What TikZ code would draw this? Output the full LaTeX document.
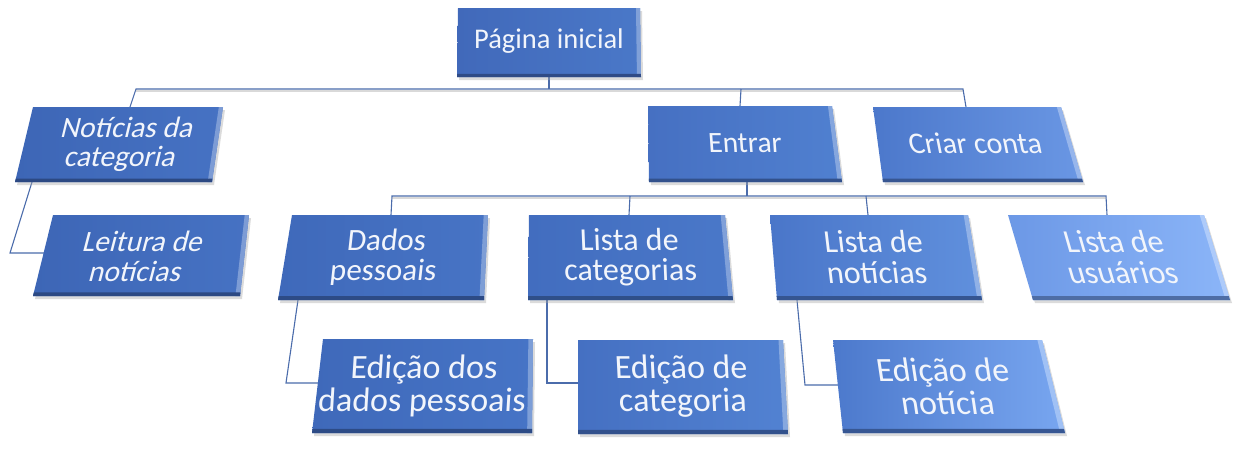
\documentclass[tikz,border=0pt]{standalone}
\usepackage{fontspec}
\setmainfont{Carlito}
\usetikzlibrary{calc}
\definecolor{conncol}{HTML}{4B6CAB}
\definecolor{txtcol}{HTML}{F2F5FB}
\definecolor{piL}{HTML}{4169BA}\definecolor{piR}{HTML}{4A78C8}
\definecolor{ncL}{HTML}{3D66B6}\definecolor{ncR}{HTML}{4672C3}
\definecolor{enL}{HTML}{4670C2}\definecolor{enR}{HTML}{5080D0}
\definecolor{ccL}{HTML}{4C78CB}\definecolor{ccR}{HTML}{6A97E4}
\definecolor{leL}{HTML}{3D66B6}\definecolor{leR}{HTML}{4672C3}
\definecolor{dpL}{HTML}{3F69BA}\definecolor{dpR}{HTML}{4774C5}
\definecolor{lcL}{HTML}{426DBF}\definecolor{lcR}{HTML}{4A78C9}
\definecolor{lnL}{HTML}{4A76C9}\definecolor{lnR}{HTML}{6090DD}
\definecolor{luL}{HTML}{6C98E6}\definecolor{luR}{HTML}{8BB5F8}
\definecolor{edL}{HTML}{3F69BA}\definecolor{edR}{HTML}{4674C6}
\definecolor{ecL}{HTML}{4570C2}\definecolor{ecR}{HTML}{5282D2}
\definecolor{etL}{HTML}{4C79CC}\definecolor{etR}{HTML}{78A6F0}
\tikzset{
  conn/.style={draw=conncol, line width=1.1pt},
  connsh/.style={draw=black!15, line width=2.4pt},
  txt/.style={text=txtcol, align=center, inner sep=0pt}
}
\newcommand\drawbox[7]{%
  \coordinate (#1-tl) at #2; \coordinate (#1-tr) at #3;
  \coordinate (#1-br) at #4; \coordinate (#1-bl) at #5;
  \fill[black!35, opacity=0.4] ($(#1-tl)+(2,3)$) -- ($(#1-tr)+(2,3)$) -- ($(#1-br)+(2,3)$) -- ($(#1-bl)+(2,3)$) -- cycle;
  \shade[left color=#6, right color=#7] (#1-tl) -- (#1-tr) -- (#1-br) -- (#1-bl) -- cycle;
  \fill[#7!70!white] (#1-tr) -- (#1-br) -- ($(#1-br)!0.022!(#1-bl)$) -- ($(#1-tr)!0.022!(#1-tl)$) -- cycle;
  \fill[#6!72!black] (#1-bl) -- (#1-br) -- ($(#1-br)!0.045!(#1-tr)$) -- ($(#1-bl)!0.045!(#1-tl)$) -- cycle;
}
\newcommand\boxtext[6]{%
  \begin{scope}[shift={#2}, xslant=#3]
    \node[txt, transform shape, font=\fontsize{#4}{#5}\selectfont] (#1) at (0,0) {#6};
  \end{scope}}
\begin{document}
\begin{tikzpicture}[x=1pt, y=-1pt]
\fill[white] (0,0) rectangle (1240,448);
\useasboundingbox (0,0) rectangle (1240,448);

% connector points
\coordinate (pi-b) at (549,77);   \coordinate (h1-c) at (549,89);
\coordinate (h1-l) at (136,89);   \coordinate (nc-t) at (130,107);
\coordinate (h1-e) at (741,89);   \coordinate (en-t) at (740,106);
\coordinate (h1-r) at (963,89);   \coordinate (cc-t) at (966,107);
\coordinate (en-b) at (747,182);  \coordinate (h2-c) at (747,196);
\coordinate (h2-1) at (392,196);  \coordinate (dp-t) at (391,215);
\coordinate (h2-2) at (630,196);  \coordinate (lc-t) at (629,215);
\coordinate (h2-3) at (866,196);  \coordinate (ln-t) at (868,215);
\coordinate (h2-4) at (1106,196); \coordinate (lu-t) at (1107,215);
\coordinate (nc-b) at (32,182);   \coordinate (nc-k) at (10,253);   \coordinate (le-l) at (45,253);
\coordinate (dp-b) at (298,300);  \coordinate (dp-k) at (286,383);  \coordinate (ed-l) at (318,383);
\coordinate (lc-b) at (547,300);  \coordinate (lc-k) at (547,383);  \coordinate (ec-l) at (578,383);
\coordinate (ln-b) at (797,300);  \coordinate (ln-k) at (805,385);  \coordinate (et-l) at (839,385);

% connector shadows
\draw[connsh] ($(h1-l)+(0,2)$) -- ($(h1-r)+(0,2)$);
\draw[connsh] ($(h2-1)+(0,2)$) -- ($(h2-4)+(0,2)$);

% connectors
\draw[conn] (pi-b) -- (h1-c);
\draw[conn] (nc-t) -- (h1-l) -- (h1-r) -- (cc-t);
\draw[conn] (h1-e) -- (en-t);
\draw[conn] (en-b) -- (h2-c);
\draw[conn] (dp-t) -- (h2-1) -- (h2-4) -- (lu-t);
\draw[conn] (h2-2) -- (lc-t);
\draw[conn] (h2-3) -- (ln-t);
\draw[conn] (nc-b) -- (nc-k) -- (le-l);
\draw[conn] (dp-b) -- (dp-k) -- (ed-l);
\draw[conn] (lc-b) -- (lc-k) -- (ec-l);
\draw[conn] (ln-b) -- (ln-k) -- (et-l);

% boxes
\drawbox{pi}{(458,8)}{(640,8)}{(641,77)}{(457,77)}{piL}{piR}
\drawbox{nc}{(33,107)}{(223,107)}{(212,182)}{(15,182)}{ncL}{ncR}
\drawbox{en}{(648,106)}{(832,106)}{(842,182)}{(649,182)}{enL}{enR}
\drawbox{cc}{(873,107)}{(1061,107)}{(1083,182)}{(883,182)}{ccL}{ccR}
\drawbox{le}{(53,215)}{(249,215)}{(240,296)}{(33,296)}{leL}{leR}
\drawbox{dp}{(292,215)}{(488,215)}{(484,300)}{(278,300)}{dpL}{dpR}
\drawbox{lc}{(529,215)}{(725,215)}{(733,300)}{(528,300)}{lcL}{lcR}
\drawbox{ln}{(770,215)}{(968,215)}{(982,300)}{(777,300)}{lnL}{lnR}
\drawbox{lu}{(1008,215)}{(1204,215)}{(1230,300)}{(1033,300)}{luL}{luR}
\drawbox{ed}{(323,339)}{(533,339)}{(532,433)}{(312,433)}{edL}{edR}
\drawbox{ec}{(578,340)}{(783,340)}{(788,434)}{(578,434)}{ecL}{ecR}
\drawbox{et}{(833,340)}{(1042,340)}{(1065,433)}{(843,433)}{etL}{etR}

% texts
\boxtext{piT}{(549,41)}{0}{28.5}{28}{Página inicial}
\boxtext{ncT}{(124,144)}{0.24}{29.5}{29}{Notícias da\\categoria}
\boxtext{enT}{(745,143)}{-0.07}{29.5}{29}{Entrar}
\boxtext{ccT}{(975,143)}{-0.2}{30}{29}{Criar conta}
\boxtext{leT}{(140,256)}{0.26}{29.5}{30}{Leitura de\\notícias}
\boxtext{dpT}{(385,257)}{0.11}{31}{30}{Dados\\pessoais}
\boxtext{lcT}{(630,257)}{-0.04}{32}{30.5}{Lista de\\categorias}
\boxtext{lnT}{(875,257)}{-0.12}{32}{30.5}{Lista de\\notícias}
\boxtext{luT}{(1118,257)}{-0.29}{32}{30.5}{Lista de\\usuários}
\boxtext{edT}{(423,386)}{0.06}{34}{33}{Edição dos\\dados pessoais}
\boxtext{ecT}{(682,386)}{-0.05}{34}{33}{Edição de\\categoria}
\boxtext{etT}{(945,386)}{-0.15}{34}{33}{Edição de\\notícia}
\end{tikzpicture}
\end{document}
